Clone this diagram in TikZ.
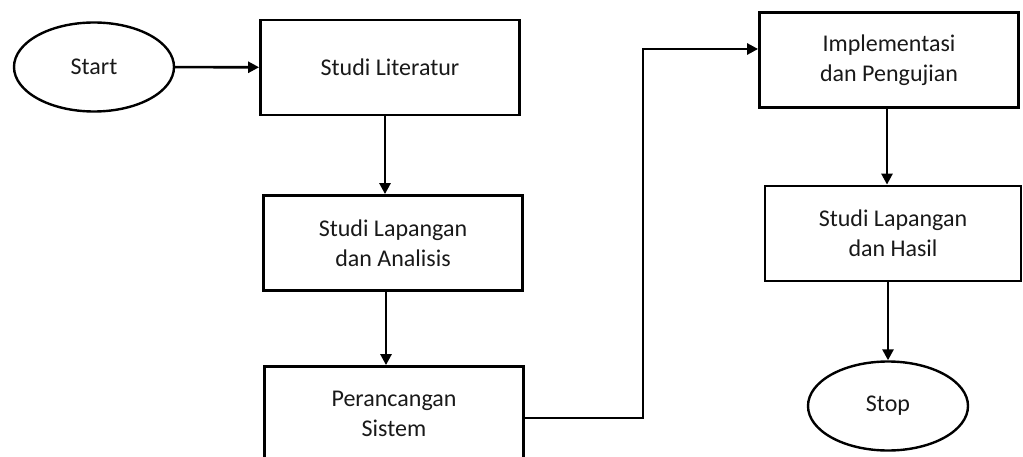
\documentclass[tikz,border=0pt]{standalone}
\usepackage{fontspec}
\setmainfont{Carlito}
\usetikzlibrary{positioning,arrows.meta,shapes.geometric,calc}

\begin{document}
\begin{tikzpicture}[
  x=1pt, y=-1pt,
  font=\fontsize{24}{30}\selectfont,
  >={Triangle[length=11pt,width=11pt]},
  term/.style={ellipse, draw=black, line width=2.4pt, minimum width=160pt,
               minimum height=89pt, inner sep=0pt, text=black!90},
  proc/.style={rectangle, draw=black, line width=2.8pt, align=center,
               minimum width=259pt, minimum height=95pt, inner sep=0pt, text=black!90},
  flow/.style={->, line width=2.6pt},
]
\useasboundingbox (0,0) rectangle (1023,457);

% ---- left column ----
\node[term] (start) at (94,67)    {Start};
\node[proc] (lit)   at (390,67.5) {Studi Literatur};
\node[proc] (lap)   at (393,243)  {Studi Lapangan\\dan Analisis};
\node[proc] (ran)   at (394,414)  {Perancangan\\Sistem};

% ---- right column ----
\node[proc] (imp)  at (889,60)    {Implementasi\\dan Pengujian};
\node[proc, minimum width=256pt] (has) at (893,233.5) {Studi Lapangan\\dan Hasil};
\node[term] (stop) at (888,406)   {Stop};

% ---- connector points ----
\coordinate (litout) at ($(lit.south)+(-5,0)$);
\coordinate (lapout) at ($(lap.south)+(-7,0)$);
\coordinate (ranout) at ($(ran.east)+(0,4)$);
\coordinate (impin)  at ($(imp.west)+(0,-11)$);
\coordinate (impout) at ($(imp.south)+(-2,0)$);
\coordinate (turn)   at (643,230);

% ---- connectors ----
\draw[flow] (start) -- (lit);
\draw[flow] (litout) -- (litout |- lap.north);
\draw[flow] (lapout) -- (lapout |- ran.north);
\draw[flow] (ranout) -| (turn) |- (impin);
\draw[flow] (impout) -- (impout |- has.north);
\draw[flow] (stop.north |- has.south) -- (stop.north);
\end{tikzpicture}
\end{document}
